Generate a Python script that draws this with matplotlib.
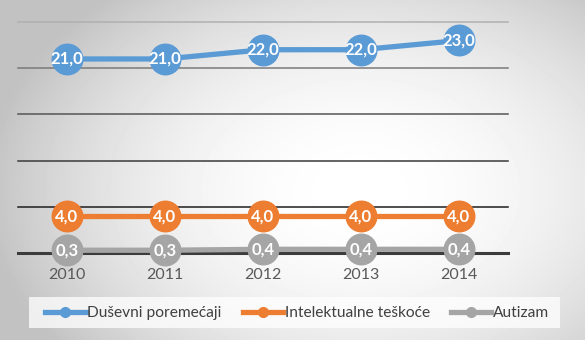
import numpy as np
import matplotlib
matplotlib.use("Agg")
import matplotlib.pyplot as plt
from matplotlib.lines import Line2D
from matplotlib.patches import Rectangle

plt.rcParams['font.family'] = ['Lato', 'DejaVu Sans']

years = ["2010", "2011", "2012", "2013", "2014"]
dusevni = [21.0, 21.0, 22.0, 22.0, 23.0]
intelektualne = [4.0, 4.0, 4.0, 4.0, 4.0]
autizam = [0.3, 0.3, 0.4, 0.4, 0.4]
series_names = ["Duševni poremećaji", "Intelektualne teškoće", "Autizam"]
colors = ["#5B9BD5", "#ED7D31", "#A5A5A5"]

W, H = 585, 340
fig = plt.figure(figsize=(W / 100, H / 100), dpi=100)

# radial grey-to-white background
bg = fig.add_axes([0, 0, 1, 1], zorder=-10)
yy, xx = np.mgrid[0:H, 0:W]
r = np.sqrt(((xx - 360) / 360.0) ** 2 + ((yy - 190) / 250.0) ** 2)
shade = np.clip(1.0 - 0.22 * r ** 2, 0.76, 1.0)
bg.imshow(shade, cmap="gray", vmin=0, vmax=1, aspect="auto", extent=[0, 1, 0, 1])
bg.axis("off")

ax = fig.add_axes([18 / W, 1 - 253 / H, 490 / W, 231 / H])
ax.set_facecolor("none")
x = np.arange(len(years))
ax.set_xlim(-0.5, len(years) - 0.5)
ax.set_ylim(0, 25)

grid_cols = {5: "#1e1e1e", 10: "#3a3a3a", 15: "#555555", 20: "#7a7a7a", 25: "#b0b0b0"}
for yv, c in grid_cols.items():
    ax.axhline(yv, color=c, lw=1.1, zorder=1, clip_on=False)
ax.axhline(0, color="#3c3c3c", lw=2.2, zorder=1, clip_on=False)

for vals, col in zip([dusevni, intelektualne, autizam], colors):
    ax.plot(x, vals, color=col, lw=3.8, marker="o", markersize=22,
            markerfacecolor=col, markeredgecolor=col, zorder=3, clip_on=False)
    for xi, v in zip(x, vals):
        ax.text(xi, v, f"{v:.1f}".replace(".", ","), ha="center", va="center",
                color="white", fontsize=12, fontweight="bold", zorder=4)

for s in ax.spines.values():
    s.set_visible(False)
ax.set_yticks([])
ax.set_xticks(x)
ax.set_xticklabels(years, color="#595959", fontsize=11.5)
ax.tick_params(axis="x", length=0, pad=10.5)

# legend panel
fig.patches.append(Rectangle((29 / W, 1 - 328 / H), 531 / W, 31 / H,
                             transform=fig.transFigure, facecolor="white",
                             alpha=0.75, edgecolor="none", zorder=1))

handles = [Line2D([0], [0], color=c, lw=3.8, marker="o", markersize=7,
                  markerfacecolor=c, markeredgecolor=c) for c in colors]
leg = fig.legend(handles, series_names, loc="center", ncol=3,
                 bbox_to_anchor=(297 / W, 1 - 313 / H), fontsize=11.2,
                 frameon=False, handlelength=2.6, handletextpad=0.1,
                 columnspacing=1.35, borderpad=0.3)
for t in leg.get_texts():
    t.set_color("#404040")

fig.savefig("out.png", dpi=100)
